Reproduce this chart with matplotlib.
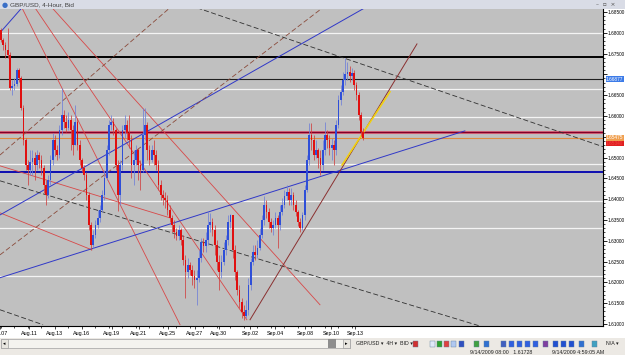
import matplotlib
matplotlib.use('Agg')
import matplotlib.pyplot as plt
from matplotlib.patches import Rectangle
import numpy as np

# ---------------- data (prices in pips, /10000) ----------------
first_open = 16807
closes = [16783,16771,16759,16747,16667,16672,16677,16711,16691,16619,
          16542,16482,16470,16490,16499,16482,16506,16494,16475,16434,
          16410,16446,16494,16542,16518,16506,16566,16603,16586,16571,
          16591,16566,16530,16586,16530,16494,16475,16458,16410,16338,
          16290,16314,16338,16355,16374,16410,16451,16518,16579,16586,
          16566,16482,16410,16482,16566,16579,16559,16542,16482,16494,
          16518,16482,16470,16554,16579,16518,16494,16518,16506,16482,
          16434,16410,16403,16398,16374,16355,16338,16321,16312,16326,
          16302,16254,16225,16242,16230,16216,16206,16211,16259,16297,
          16288,16302,16338,16345,16326,16290,16250,16225,16250,16278,
          16302,16345,16362,16278,16225,16182,16153,16129,16120,16134,
          16194,16250,16273,16266,16283,16314,16350,16386,16369,16345,
          16331,16338,16355,16338,16369,16386,16408,16417,16398,16410,
          16386,16369,16345,16331,16362,16422,16494,16554,16542,16506,
          16518,16499,16482,16518,16554,16542,16523,16530,16518,16579,
          16639,16658,16687,16701,16706,16696,16704,16675,16651,16603,
          16562,16547.5]
highs = [16812,16788,16778,16812,16754,16687,16691,16716,16716,16696,
         16627,16547,16494,16518,16518,16514,16518,16514,16506,16482,
         16446,16458,16506,16559,16554,16530,16579,16667,16615,16603,
         16610,16603,16579,16627,16595,16542,16499,16482,16466,16417,
         16345,16326,16350,16374,16386,16422,16470,16530,16591,16603,
         16595,16571,16494,16494,16579,16603,16591,16603,16554,16518,
         16530,16523,16494,16619,16619,16586,16530,16530,16542,16518,
         16494,16446,16422,16417,16410,16386,16362,16350,16331,16338,
         16331,16314,16266,16259,16250,16242,16230,16230,16278,16307,
         16307,16321,16372,16367,16355,16338,16302,16266,16266,16297,
         16314,16362,16365,16362,16290,16230,16194,16163,16146,16158,
         16211,16259,16290,16290,16302,16331,16362,16408,16398,16379,
         16355,16350,16369,16362,16386,16403,16422,16434,16427,16427,
         16417,16398,16374,16355,16369,16434,16506,16583,16583,16554,
         16542,16523,16518,16542,16586,16566,16554,16547,16542,16591,
         16651,16675,16706,16740,16730,16720,16716,16711,16682,16658,
         16610,16571]
lows = [16778,16759,16740,16740,16663,16651,16663,16672,16682,16615,
        16530,16470,16434,16458,16458,16446,16470,16475,16458,16415,
        16386,16403,16434,16482,16504,16494,16499,16554,16571,16562,
        16566,16518,16506,16530,16518,16482,16466,16446,16398,16326,
        16278,16283,16307,16331,16345,16369,16398,16446,16506,16566,
        16554,16470,16372,16386,16470,16547,16542,16523,16451,16434,
        16482,16446,16422,16466,16542,16494,16482,16490,16482,16470,
        16422,16398,16386,16379,16362,16345,16321,16307,16302,16302,
        16290,16242,16163,16211,16218,16194,16187,16146,16201,16250,
        16273,16273,16290,16321,16312,16266,16230,16182,16211,16242,
        16266,16290,16331,16259,16206,16170,16139,16115,16110,16115,
        16122,16182,16242,16254,16259,16278,16307,16338,16355,16331,
        16321,16314,16331,16283,16326,16362,16379,16398,16386,16386,
        16374,16360,16336,16321,16326,16350,16417,16482,16518,16494,
        16499,16475,16458,16470,16506,16523,16506,16494,16482,16506,
        16571,16627,16651,16675,16687,16682,16687,16663,16639,16591,
        16552,16542]

date_labels = ["Aug.07", "Aug.11", "Aug.13", "Aug.16", "Aug.19", "Aug.21", "Aug.25",
               "Aug.27", "Aug.30", "Sep.02", "Sep.04", "Sep.08", "Sep.10", "Sep.13"]
date_bars = [-0.4, 12.6, 24.0, 36.0, 49.3, 61.3, 74.2, 86.2, 96.8, 110.7, 122.0, 135.1, 146.7, 157.3]

# horizontal levels (pips)
white_levels = [16800, 16665, 16597, 16485, 16396, 16331, 16216]
black_thick_level = 16742
black_thin_level = 16688
maroon_level = 16562
blue_level = 16466
ask_level = 16534

# trend lines: (bar0, pips0, bar1, pips1)
red_lines = [(9.3, 16860, 79.6, 16098), (15.1, 16860, 109.3, 16110),
             (22.7, 16860, 141.8, 16146), (-0.44, 16480, 75.1, 16355),
             (-0.44, 16367, 40.4, 16278)]
blue_lines = [(-0.44, 16800, 9.3, 16860), (-0.44, 16362, 161.8, 16860),
              (-0.44, 16211, 206.2, 16564)]
brown_dashed = [(-0.44, 16506, 75.1, 16860), (-0.44, 16266, 143.0, 16860)]
black_dashed = [(-0.44, 16444, 212.9, 16095), (-0.44, 16134, 18.7, 16098),
                (87.1, 16860, 267.6, 16526)]
brown_solid = [(110.7, 16110, 184.9, 16773)]
yellow_lines = [(151.6, 16482, 172.9, 16658)]

# ---------------- figure ----------------
W, H = 625, 355
fig = plt.figure(figsize=(W / 100, H / 100), dpi=100)
fig.patch.set_facecolor('#ECE9E4')
NARROW = ['Liberation Sans Narrow', 'Liberation Sans', 'DejaVu Sans']

def fx(px):
    return px / W

def fy(py):
    return 1 - py / H

def frect(x0, y0, x1, y1, **kw):
    fig.patches.append(Rectangle((fx(x0), fy(y1)), (x1 - x0) / W, (y1 - y0) / H,
                                 transform=fig.transFigure, **kw))

# white scale area
frect(0, 9, 625, 338, facecolor='white', edgecolor='none', zorder=0)
# title bar
frect(0, 0, 625, 9, facecolor='#D9DCE6', edgecolor='none', zorder=0)
fig.text(fx(2), fy(4.6), '●', color='#3A6FC8', fontsize=5, va='center')
fig.text(fx(10), fy(4.6), 'GBP/USD, 4-Hour, Bid', color='#404040', fontsize=4.6,
         va='center', family=NARROW)
fig.text(fx(596), fy(4.2), '–  ▫  ×', color='#505050', fontsize=4.2, va='center')

ax = fig.add_axes([0, fy(326), 603 / W, (326 - 9) / H])
ax.set_zorder(3)
ax.set_facecolor('#C0C0C0')
ax.set_xlim(-0.44, 267.6)
ax.set_ylim(1.6095, 1.6857)

n = len(closes)
opens = [first_open] + closes[:-1]
o = np.array(opens) / 1e4
c = np.array(closes) / 1e4
h = np.array(highs) / 1e4
l = np.array(lows) / 1e4
x = np.arange(n)

# horizontal levels
for lev in white_levels:
    ax.axhline(lev / 1e4, color='#F4F4F4', lw=0.9, zorder=1)
ax.axhline(black_thick_level / 1e4, color='black', lw=1.4, zorder=2)
ax.axhline(black_thin_level / 1e4, color='#202020', lw=0.8, zorder=2)
ax.axhline(maroon_level / 1e4, color='#E07080', lw=2.2, zorder=2)
ax.axhline(maroon_level / 1e4, color='#80002A', lw=1.0, zorder=2)
ax.axhline(closes[-1] / 1e4, color='#E08A40', lw=0.8, zorder=2)
ax.axhline(blue_level / 1e4, color='#0000B0', lw=1.3, zorder=2)

def draw(lines, color, ls, lw, z=3):
    for (b0, p0, b1, p1) in lines:
        ax.plot([b0, b1], [p0 / 1e4, p1 / 1e4], color=color, ls=ls, lw=lw, zorder=z)

draw(red_lines, '#D84848', '-', 0.6)
draw(blue_lines, '#3038C8', '-', 0.7)
draw(brown_dashed, '#8A4A3A', (0, (6, 3)), 0.6)
draw(black_dashed, '#303030', (0, (6, 3)), 0.6)
draw(brown_solid, '#8A3030', '-', 0.7)
draw(yellow_lines, '#F0D010', '-', 1.2, z=4)

# candles
up = c >= o
col = np.where(up, '#2F4FD8', '#E01010')
wick_col = np.where(up, '#7080D8', '#D04040')
ax.vlines(x, l, h, colors=wick_col, lw=0.55, zorder=5)
ax.bar(x, np.maximum(np.abs(c - o), 0.00006), bottom=np.minimum(o, c), width=0.75,
       color=col, lw=0, zorder=6)

# axes styling
for s in ['left', 'top']:
    ax.spines[s].set_visible(False)
ax.spines['right'].set_color('black')
ax.spines['bottom'].set_color('black')
ax.spines['right'].set_linewidth(0.8)
ax.spines['bottom'].set_linewidth(0.8)
ax.yaxis.tick_right()
yt = np.arange(1.610, 1.6851, 0.005)
hidden = {'1.67000', '1.65500'}   # covered by the price boxes
ax.set_yticks(yt)
ax.set_yticklabels([('' if ('%.5f' % v) in hidden else '%.5f' % v) for v in yt],
                   family=NARROW, fontsize=3.45)
ax.set_yticks(np.arange(1.610, 1.6856, 0.001), minor=True)
ax.tick_params(axis='y', which='major', length=2.6, width=0.6, pad=0.4)
ax.tick_params(axis='y', which='minor', length=1.5, width=0.5)
ax.set_xticks(date_bars)
ax.set_xticklabels(date_labels, family=NARROW, fontsize=3.9)
ax.set_xticks(np.arange(0, 160, 6), minor=True)
ax.tick_params(axis='x', which='major', length=2, width=0.5, pad=1.5)
ax.tick_params(axis='x', which='minor', length=1.5, width=0.5)

# price labels on the scale
def price_box(p, text, fc, tc):
    ax.text(1.005, p, text, transform=ax.get_yaxis_transform(), va='center',
            ha='left', fontsize=3.45, family=NARROW, color=tc, zorder=10, clip_on=False,
            bbox=dict(boxstyle='square,pad=0.1', fc=fc, ec='none'))

price_box(black_thin_level / 1e4 - 0.00003, '1.66877', '#3C7BE8', 'white')
price_box(ask_level / 1e4, '1.65340', '#E02020', '#F04040')
price_box(closes[-1] / 1e4 + 0.00004, '1.65475', '#F0A050', 'white')

# toolbar / scrollbar
frect(0, 338, 625, 349, facecolor='#ECE9E4', edgecolor='none', zorder=0)
frect(1, 339, 350, 348, facecolor='#F4F3EF', edgecolor='#A0A0A0', lw=0.5, zorder=1)
frect(1, 339, 8, 348, facecolor='#E8E6E0', edgecolor='#A0A0A0', lw=0.5, zorder=2)
frect(343, 339, 350, 348, facecolor='#E8E6E0', edgecolor='#A0A0A0', lw=0.5, zorder=2)
frect(328, 339, 336, 348, facecolor='#8E8E8E', edgecolor='none', zorder=2)
fig.text(fx(2.5), fy(343.5), '◂', fontsize=3.5, va='center', color='black')
fig.text(fx(344.5), fy(343.5), '▸', fontsize=3.5, va='center', color='black')
fig.text(fx(356), fy(343.5), 'GBP/USD ▾  4H ▾  BID ▾', fontsize=3.8, va='center',
         family=NARROW, color='#202020')
icon_x = [413, 430, 437, 444, 451, 459, 474, 484, 501, 509, 517, 525, 533, 543, 553, 561, 569, 579, 592]
icon_c = ['#D03030', '#E0E8F8', '#30A030', '#E04040', '#B0C8F0', '#3050C0', '#40A040', '#3070D0',
          '#4060C0', '#3060E0', '#3060E0', '#3060E0', '#3060E0', '#8040A0', '#2050D0', '#2050D0',
          '#2050D0', '#3070D0', '#40A0C0']
for xi, ci in zip(icon_x, icon_c):
    frect(xi, 340.5, xi + 5, 346.5, facecolor=ci, edgecolor='#6080A0', lw=0.3, zorder=2)
fig.text(fx(606), fy(343.5), 'N/A ▾', fontsize=3.8, va='center', family=NARROW, color='#202020')

# status bar
frect(0, 349, 625, 355, facecolor='#ECE9E4', edgecolor='none', zorder=0)
fig.text(fx(470), fy(352), '9/14/2009 08:00   1.61728', fontsize=3.8, va='center',
         family=NARROW, color='#202020')
fig.text(fx(552), fy(352), '9/14/2009 4:59:05 AM', fontsize=3.8, va='center',
         family=NARROW, color='#202020')

fig.savefig('out.png', dpi=100, facecolor=fig.get_facecolor())
